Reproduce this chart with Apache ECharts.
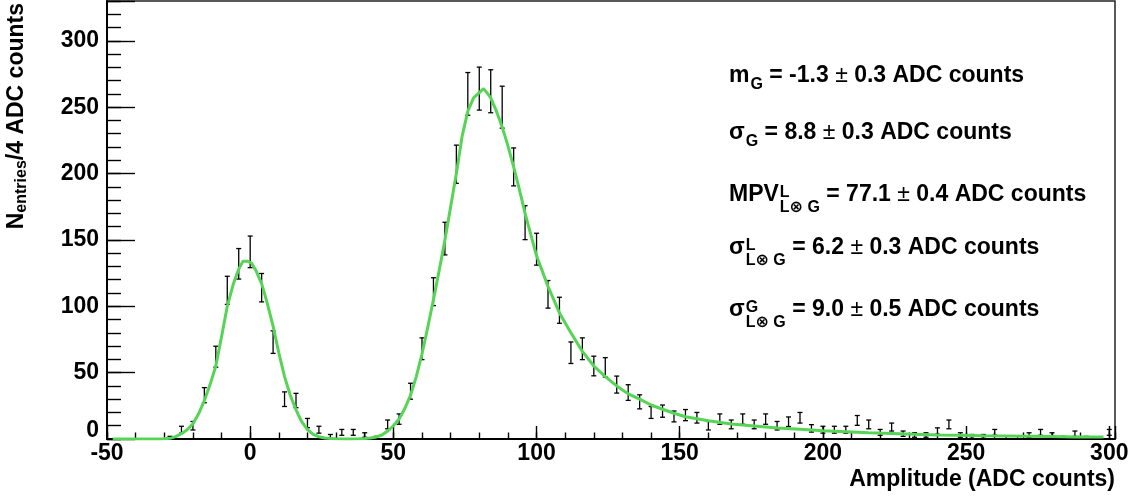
<!DOCTYPE html>
<html><head><meta charset="utf-8">
<script src="https://cdn.jsdelivr.net/npm/echarts@6/dist/echarts.min.js"></script>
<style>html,body{margin:0;padding:0;background:#fff}#c{width:1135px;height:497px}</style>
</head><body><div id="c"></div>
<script>
// ---------- DATA ----------
const binCenters = [-28,-24,-20,-16,-12,-8,-4,0,4,8,12,16,20,24,28,32,36,40,44,48,52,56,60,64,68,72,76,80,84,88,92,96,100,104,108,112,116,120,124,128,132,136,140,144,148,152,156,160,164,168,172,176,180,184,188,192,196,200,204,208,212,216,220,224,228,232,236,240,244,248,252,256,260,264,268,272,276,280,284,288,292,300];
const counts = [1,7,10,33,62,112,132,141,114,73,30,29,12,7,2,5,5,3,1,11,15,36,68,111,151,207,260,264,262,250,205,163,143,109,97,65,68,55,54,41,35,28,20,21,17,18,16,10,15,11,15,11,15,10,13,16,8,7,7,7,14,11,5,9,4,3,3,6,11,3,2,2,5,1,1,3,5,3,1,4,1,5];
const errors = [1.0,2.6,3.2,5.7,7.9,10.6,11.5,11.9,10.7,8.5,5.5,5.4,3.5,2.6,1.4,2.2,2.2,1.7,1.0,3.3,3.9,6.0,8.2,10.5,12.3,14.4,16.1,16.2,16.2,15.8,14.3,12.8,12.0,10.4,9.8,8.1,8.2,7.4,7.3,6.4,5.9,5.3,4.5,4.6,4.1,4.2,4.0,3.2,3.9,3.3,3.9,3.3,3.9,3.2,3.6,4.0,2.8,2.6,2.6,2.6,3.7,3.3,2.2,3.0,2.0,1.7,1.7,2.4,3.3,1.7,1.4,1.4,2.2,1.0,1.0,1.7,2.2,1.7,1.0,2.0,1.0,2.2];
const fitX = [-48,-40,-32,-30,-28,-26,-24,-22,-20,-18,-16,-14,-12,-10,-8,-6,-4,-2.5,-1,0.5,2,4,6,8,10,12,14,16,18,20,22,24,26,28,30,34,38,40,42,44,46,48,50,52,54,56,58,60,62,64,66,68,70,72,74,76,78,80,81.5,83,84,86,88,90,92,94,96,98,100,104,108,112,116,120,124,128,132,136,140,144,148,152,156,160,168,176,184,192,200,208,216,224,232,240,248,256,264,272,280,288,298];
const fitY = [0,0,0,0.1,0.5,1.8,4,7,11.5,19,29,41,55,77,100,116,128,134,134,132.5,127,117,102,85,65,47,33,22,13,7,3.5,1.7,0.8,0.3,0.1,0,0.1,0.3,0.7,1.5,3,6,10,15,23,33,47,64,84,105,127,150,175,200,228,247,257,261,264,260,257,247,235,221,205,188,170,154,138,115,95,80,66,55,47,40,34,30,25.6,22.4,19.4,16.8,15.3,13.8,11.3,9.8,8.3,7.3,6.3,5.5,4.7,4.2,3.6,3.1,2.8,2.4,2.2,2.0,1.8,1.6,1.5];
const xTickLabels = [-50,0,50,100,150,200,250,300];
const yTickLabels = [0,50,100,150,200,250,300];
const xTitle = 'Amplitude (ADC counts)';
const yTitleMain = 'N', yTitleSub = 'entries', yTitleRest = '/4 ADC counts';
const paramSym = ['m','σ','MPV','σ','σ'];
const paramSup = ['','','L','L','G'];
const paramSub = ['G','G','L⊗ G','L⊗ G','L⊗ G'];
const paramVal = ['-1.3','8.8','77.1','6.2','9.0'];
const paramErr = ['0.3','0.3','0.4','0.3','0.5'];
const paramUnit = 'ADC counts';

// ---------- STYLE / LAYOUT ----------
const F = '"Liberation Sans", Arial, "DejaVu Sans", sans-serif';
const FS = 23, FSS = 16;
const GREEN = '#55d455';
const paramBase = [84, 141, 203, 256, 318];
const paramX = 729;

const ctx = document.createElement('canvas').getContext('2d');
function tw(t, size, weight) { ctx.font = (weight || 'bold') + ' ' + size + 'px ' + F; return ctx.measureText(t).width; }
function txt(t, x, base, size, weight) {
  return { type: 'text', x: x, y: base - 0.3465 * size, z: 100,
    style: { text: t, fontFamily: F, fontSize: size, fontWeight: weight || 'bold', fill: '#000', align: 'left', verticalAlign: 'middle' } };
}
const graphics = [];
for (let i = 0; i < paramSym.length; i++) {
  const B = paramBase[i];
  let x = paramX;
  graphics.push(txt(paramSym[i], x, B, FS));
  x += tw(paramSym[i], FS) + 1;
  if (paramSup[i]) {
    graphics.push(txt(paramSup[i], x, B - 5, FSS));
    graphics.push(txt(paramSub[i], x, B + 10, FSS));
    x += Math.max(tw(paramSup[i], FSS), tw(paramSub[i], FSS));
  } else {
    graphics.push(txt(paramSub[i], x, B + 6, FSS));
    x += tw(paramSub[i], FSS);
  }
  const s1 = ' = ' + paramVal[i] + ' ';
  graphics.push(txt(s1, x, B, FS)); x += tw(s1, FS);
  graphics.push(txt('±', x, B, FS, 'normal')); x += tw('±', FS, 'normal');
  const s2 = ' ' + paramErr[i] + ' ' + paramUnit;
  graphics.push(txt(s2, x, B, FS));
}
graphics.push({ type: 'text', x: 1115, y: 488 - 0.3465 * FS, z: 100,
  style: { text: xTitle, fontFamily: F, fontSize: FS, fontWeight: 'bold', fill: '#000', align: 'right', verticalAlign: 'middle' } });
graphics.push({ type: 'text', x: 17, y: 3, rotation: Math.PI / 2, z: 100,
  style: { text: '{n|' + yTitleMain + '}{s|' + yTitleSub + '}{n|' + yTitleRest + '}', align: 'right', verticalAlign: 'middle',
    rich: { n: { fontFamily: F, fontSize: FS, fontWeight: 'bold', fill: '#000', lineHeight: 26 },
            s: { fontFamily: F, fontSize: 16, fontWeight: 'bold', fill: '#000', lineHeight: 9, verticalAlign: 'bottom' } } } });

const labelStyle = { fontFamily: F, fontSize: FS, fontWeight: 'bold', color: '#000' };
const chart = echarts.init(document.getElementById('c'), null, { renderer: 'canvas' });
chart.setOption({
  animation: false,
  backgroundColor: '#fff',
  grid: { left: 107, right: 20, top: 1, bottom: 58, show: true, borderColor: '#222', borderWidth: 1.5, containLabel: false },
  xAxis: [
    { type: 'value', min: -50, max: 302, interval: 50, position: 'bottom',
      axisLine: { show: true, onZero: false, lineStyle: { color: '#000', width: 2 } },
      axisTick: { show: true, inside: true, length: 13, lineStyle: { color: '#000', width: 1.4 } },
      axisLabel: Object.assign({ margin: 3, formatter: v => xTickLabels.includes(v) ? String(v) : '' }, labelStyle),
      splitLine: { show: false } },
    { type: 'value', min: -50, max: 302, interval: 10, position: 'bottom',
      axisLine: { show: false, onZero: false }, axisTick: { show: true, inside: true, length: 6.5, lineStyle: { color: '#000', width: 1.4 } },
      axisLabel: { show: false }, splitLine: { show: false } }
  ],
  yAxis: [
    { type: 'value', min: 0, max: 330, interval: 50, position: 'left',
      axisLine: { show: true, onZero: false, lineStyle: { color: '#000', width: 2 } },
      axisTick: { show: true, inside: true, length: 28, lineStyle: { color: '#000', width: 1.4 } },
      axisLabel: Object.assign({ margin: 8, formatter: v => yTickLabels.includes(v) ? (v === 0 ? '{z|0}' : String(v)) : '',
        rich: { z: { fontFamily: F, fontSize: FS, fontWeight: 'bold', color: '#000', padding: [0, 0, 17, 0] } } }, labelStyle),
      splitLine: { show: false } },
    { type: 'value', min: 0, max: 330, interval: 10, position: 'left',
      axisLine: { show: false, onZero: false }, axisTick: { show: true, inside: true, length: 14, lineStyle: { color: '#000', width: 1.4 } },
      axisLabel: { show: false }, splitLine: { show: false } }
  ],
  series: [
    { type: 'custom', xAxisIndex: 0, yAxisIndex: 0, z: 5,
      data: binCenters.map((x, i) => [x, counts[i], errors[i]]),
      renderItem: (params, api) => {
        const x = api.value(0), v = api.value(1), e = api.value(2);
        const t = api.coord([x, v + e]), b = api.coord([x, Math.max(0, v - e)]);
        const hw = 2.5, st = { stroke: '#000', lineWidth: 1.3 };
        return { type: 'group', children: [
          { type: 'line', shape: { x1: t[0], y1: t[1], x2: b[0], y2: b[1] }, style: st },
          { type: 'line', shape: { x1: t[0] - hw, y1: t[1], x2: t[0] + hw, y2: t[1] }, style: st },
          { type: 'line', shape: { x1: b[0] - hw, y1: b[1], x2: b[0] + hw, y2: b[1] }, style: st }
        ] };
      } },
    { type: 'line', xAxisIndex: 0, yAxisIndex: 0, z: 6, showSymbol: false, smooth: false,
      data: fitX.map((x, i) => [x, fitY[i]]),
      lineStyle: { color: GREEN, width: 3 } }
  ],
  graphic: graphics
});
</script>
</body></html>
